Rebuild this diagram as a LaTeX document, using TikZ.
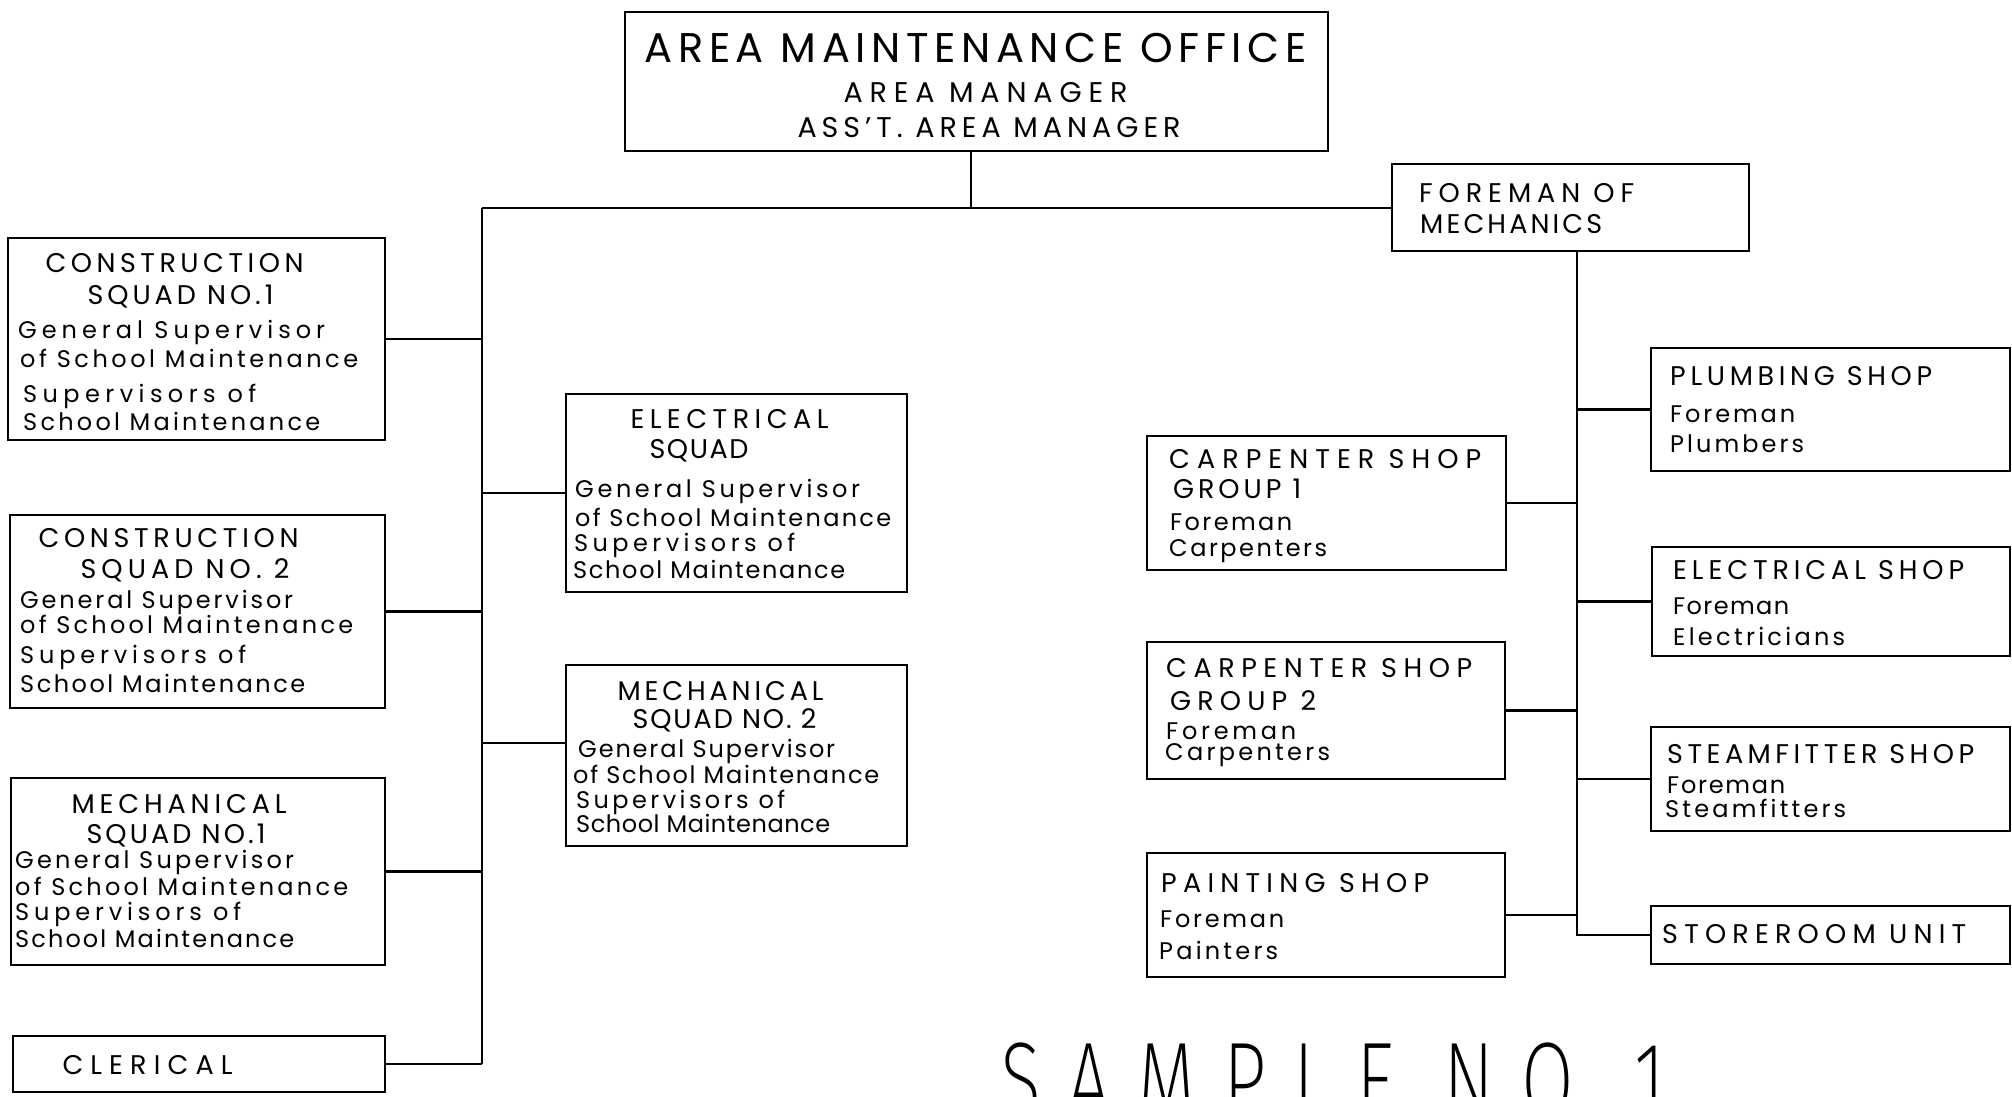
\documentclass[tikz,border=0pt]{standalone}
\usepackage{fontspec}
\setmainfont{Poppins}
\IfFontExistsTF{Fira Sans ExtraLight}{\newfontfamily\thinfont{Fira Sans ExtraLight}}{\newfontfamily\thinfont{Fira Sans}}
\newlength\fitwa
\newlength\fitwb
\newcommand\fitto[2]{%
  \settowidth\fitwa{#2}%
  \settowidth\fitwb{\addfontfeature{LetterSpace=100}#2}%
  \pgfmathsetmacro\fitls{((#1-\fitwa)/(\fitwb-\fitwa))*100}%
  \edef\fitdo{\noexpand\addfontfeature{LetterSpace=\fitls}}\fitdo #2}
\tikzset{
  box/.style={draw=black, line width=2.4pt, rectangle, inner sep=0pt},
  conn/.style={draw=black, line width=2.2pt},
  ttl/.style={inner sep=0pt, font=\fontsize{41.5}{50}\selectfont},
  sub/.style={inner sep=0pt, font=\fontsize{28.5}{35}\selectfont},
  hd/.style={inner sep=0pt, font=\fontsize{27}{33}\selectfont},
  bd/.style={inner sep=0pt, font=\fontsize{24}{29}\selectfont},
  big/.style={inner sep=0pt, font=\thinfont\fontsize{109}{109}\selectfont},
}
\newcommand\bx[5]{\node[box, minimum width=#4pt, minimum height=#5pt] (#1) at (#2,#3) {};}
\newcommand\tl[6]{\node[#1, anchor=#2] (#3) at (#4) {\fitto{#5}{#6}};}
\begin{document}
\begin{tikzpicture}[x=1pt,y=-1pt]
\useasboundingbox (0,0) rectangle (2012,1096);
\clip (0,0) rectangle (2012,1096);
\fill[white] (0,0) rectangle (2012,1096);

% boxes
\bx{top}{976.5}{81.5}{703}{139}
\bx{con1}{196.5}{339}{377}{202}
\bx{con2}{197.5}{611.5}{375}{193}
\bx{mech1}{198}{871.5}{374}{187}
\bx{cler}{199}{1064}{372}{56}
\bx{esq}{736.5}{493}{341}{198}
\bx{msq}{736.5}{755.5}{341}{181}
\bx{fm}{1570.5}{207.5}{357}{87}
\bx{plumb}{1830.5}{409.5}{359}{123}
\bx{cs1}{1326.5}{503}{359}{134}
\bx{eshop}{1831}{601.5}{358}{109}
\bx{cs2}{1326}{710.5}{358}{137}
\bx{steam}{1830.5}{779}{359}{104}
\bx{paint}{1326}{915}{358}{124}
\bx{store}{1830.5}{935}{359}{58}

% connectors
\coordinate (st) at (971,208);
\coordinate (lt) at (482,208);
\coordinate (m2j) at (482,743);
\coordinate (rtx) at (1577,935);
\draw[conn] (top.south -| st) -- (st);
\draw[conn] (lt) -- (fm.west |- lt);
\draw[conn] (lt) -- (lt |- cler.east);
\draw[conn] (con1.east) -- (con1.east -| lt);
\draw[conn] (con2.east) -- (con2.east -| lt);
\draw[conn] (mech1.east) -- (mech1.east -| lt);
\draw[conn] (cler.east) -- (cler.east -| lt);
\draw[conn] (esq.west) -- (esq.west -| lt);
\draw[conn] (m2j) -- (msq.west |- m2j);
\draw[conn] (fm.south -| rtx) -- (rtx |- store.west) -- (store.west);
\draw[conn] (plumb.west) -- (plumb.west -| rtx);
\draw[conn] (eshop.west) -- (eshop.west -| rtx);
\draw[conn] (steam.west) -- (steam.west -| rtx);
\draw[conn] (cs1.east) -- (cs1.east -| rtx);
\draw[conn] (cs2.east) -- (cs2.east -| rtx);
\draw[conn] (paint.east) -- (paint.east -| rtx);

% texts: top
\tl{ttl}{base}{t1}{975.5,62}{662}{AREA MAINTENANCE OFFICE}
\tl{sub}{base}{t2}{985.5,102}{284}{AREA MANAGER}
\tl{sub}{base}{t3}{989,137}{383}{ASS’T. AREA MANAGER}
% con1
\tl{hd}{base}{c1a}{174.5,272}{258}{CONSTRUCTION}
\tl{hd}{base}{c1b}{180.5,304}{186}{SQUAD NO.1}
\tl{bd}{base west}{c1c}{18,338}{307}{General Supervisor}
\tl{bd}{base west}{c1d}{20,367}{338}{of School Maintenance}
\tl{bd}{base west}{c1e}{23,402}{233}{Supervisors of}
\tl{bd}{base west}{c1f}{23,430}{297}{School Maintenance}
% con2
\tl{hd}{base}{c2a}{168.5,547}{260}{CONSTRUCTION}
\tl{hd}{base}{c2b}{185,578}{209}{SQUAD NO. 2}
\tl{bd}{base west}{c2c}{20,608}{273}{General Supervisor}
\tl{bd}{base west}{c2d}{20,633}{333}{of School Maintenance}
\tl{bd}{base west}{c2e}{20,663}{226}{Supervisors of}
\tl{bd}{base west}{c2f}{20,692}{285}{School Maintenance}
% mech1
\tl{hd}{base}{m1a}{179,813}{215}{MECHANICAL}
\tl{hd}{base}{m1b}{176,843}{179}{SQUAD NO.1}
\tl{bd}{base west}{m1c}{15,868}{279}{General Supervisor}
\tl{bd}{base west}{m1d}{15,895}{333}{of School Maintenance}
\tl{bd}{base west}{m1e}{15,920}{226}{Supervisors of}
\tl{bd}{base west}{m1f}{15,947}{279}{School Maintenance}
% clerical
\tl{hd}{base}{cla}{147.5,1074}{170}{CLERICAL}
% electrical squad
\tl{hd}{base}{e1a}{729.5,428}{198}{ELECTRICAL}
\tl{hd}{base}{e1b}{699,458}{99}{SQUAD}
\tl{bd}{base west}{e1c}{575,497}{285}{General Supervisor}
\tl{bd}{base west}{e1d}{575,526}{316}{of School Maintenance}
\tl{bd}{base west}{e1e}{574,551}{221}{Supervisors of}
\tl{bd}{base west}{e1f}{573,578}{272}{School Maintenance}
% mechanical squad 2
\tl{hd}{base}{m2a}{720.5,700}{206}{MECHANICAL}
\tl{hd}{base}{m2b}{724.5,728}{184}{SQUAD NO. 2}
\tl{bd}{base west}{m2c}{578,757}{257}{General Supervisor}
\tl{bd}{base west}{m2d}{573,783}{306}{of School Maintenance}
\tl{bd}{base west}{m2e}{576,808}{209}{Supervisors of}
\tl{bd}{base west}{m2f}{576,832}{254}{School Maintenance}
% foreman of mechanics
\tl{hd}{base west}{fma}{1419,202}{215}{FOREMAN OF}
\tl{hd}{base west}{fmb}{1420,233}{182}{MECHANICS}
% plumbing
\tl{hd}{base west}{pla}{1670,385}{262}{PLUMBING SHOP}
\tl{bd}{base west}{plb}{1670,422}{125}{Foreman}
\tl{bd}{base west}{plc}{1670,452}{134}{Plumbers}
% carpenter 1
\tl{hd}{base west}{k1a}{1169,468}{312}{CARPENTER SHOP}
\tl{hd}{base west}{k1b}{1173,498}{128}{GROUP 1}
\tl{bd}{base west}{k1c}{1170,530}{122}{Foreman}
\tl{bd}{base west}{k1d}{1169,556}{158}{Carpenters}
% electrical shop
\tl{hd}{base west}{esa}{1673,579}{291}{ELECTRICAL SHOP}
\tl{bd}{base west}{esb}{1673,614}{116}{Foreman}
\tl{bd}{base west}{esc}{1673,645}{172}{Electricians}
% carpenter 2
\tl{hd}{base west}{k2a}{1166,677}{306}{CARPENTER SHOP}
\tl{hd}{base west}{k2b}{1170,710}{146}{GROUP 2}
\tl{bd}{base west}{k2c}{1166,739}{130}{Foreman}
\tl{bd}{base west}{k2d}{1165,760}{165}{Carpenters}
% steamfitter
\tl{hd}{base west}{sfa}{1667,763}{307}{STEAMFITTER SHOP}
\tl{bd}{base west}{sfb}{1667,793}{118}{Foreman}
\tl{bd}{base west}{sfc}{1665,817}{181}{Steamfitters}
% painting
\tl{hd}{base west}{pta}{1161,892}{268}{PAINTING SHOP}
\tl{bd}{base west}{ptb}{1160,927}{124}{Foreman}
\tl{bd}{base west}{ptc}{1159,959}{119}{Painters}
% storeroom
\tl{hd}{base west}{sra}{1662,943}{304}{STOREROOM UNIT}
% sample title
\node[big, anchor=base west] (sample) at (1000,1118) {\scalebox{0.7}[1]{\fitto{950}{SAMPLE NO.1}}};
\end{tikzpicture}
\end{document}
